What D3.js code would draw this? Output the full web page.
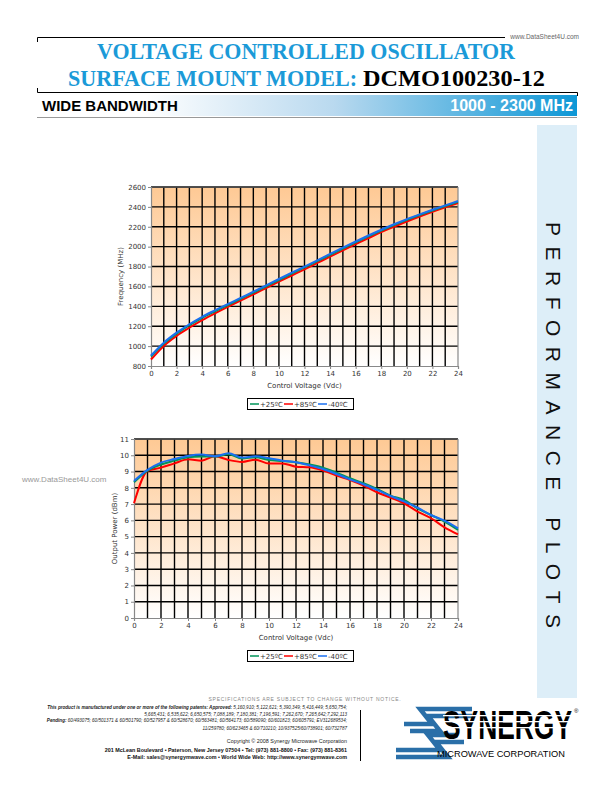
<!DOCTYPE html>
<html><head><meta charset="utf-8">
<script src="https://cdn.jsdelivr.net/npm/d3@7"></script>
<style>body{margin:0;background:#fff}svg{display:block}</style>
</head><body>
<svg id="page" width="612" height="792"></svg>
<script>
// ---------- data ----------
const voltage = [0,1,2,3,4,5,6,7,8,9,10,11,12,13,14,15,16,17,18,19,20,21,22,23,24];
const voltTicks = [0,2,4,6,8,10,12,14,16,18,20,22,24];
const freqTicks = [800,1000,1200,1400,1600,1800,2000,2200,2400,2600];
const powerTicks = [0,1,2,3,4,5,6,7,8,9,10,11];
const seriesNames = ["+25ºC","+85ºC","-40ºC"];
const seriesColors = ["#00945a","#ff0000","#1a6ff0"];

const freqP25 = [895,1025,1125,1210,1285,1350,1413,1476,1538,1601,1665,1728,1791,1854,1918,1981,2043,2103,2161,2217,2269,2318,2364,2408,2452];
const freqP85 = [865,1002,1103,1185,1261,1330,1395,1458,1520,1584,1648,1710,1772,1836,1900,1963,2025,2086,2146,2200,2253,2303,2351,2396,2439];
const freqM40 = [905,1035,1135,1220,1295,1360,1422,1485,1547,1610,1675,1738,1800,1863,1927,1990,2052,2112,2170,2225,2277,2325,2371,2415,2459];

const powP25 = [8.34,9.06,9.43,9.67,9.88,9.92,9.92,10.06,9.80,9.88,9.71,9.65,9.57,9.43,9.24,8.93,8.59,8.28,7.93,7.52,7.25,6.74,6.33,5.92,5.41];
const powP85 = [7.05,9.04,9.24,9.50,9.75,9.67,9.94,9.71,9.59,9.73,9.49,9.50,9.30,9.26,9.06,8.75,8.48,8.14,7.73,7.40,7.05,6.54,6.13,5.57,5.14];
const powM40 = [8.42,9.10,9.55,9.77,9.96,10.04,9.94,10.12,9.86,9.94,9.82,9.67,9.57,9.38,9.16,8.85,8.52,8.22,7.87,7.50,7.17,6.78,6.33,5.98,5.51];

const patentLines = [
  ["This product is manufactured under one or more of the following patents: Approved: ","5,160,910; 5,122,621; 5,390,349; 5,416,449; 5,650,754;"],
  ["","5,665,431; 6,535,622; 6,650,575; 7,088,189; 7,180,381; 7,196,591; 7,262,670; 7,265,642;7,292,113"],
  ["Pending: ","60/493075; 60/501371 & 60/501790; 60/527957 & 60/528670; 60/563481; 60/564173; 60/589090; 60/601823; 60/605791; EV312689534;"],
  ["","11/259780; 60/623465 & 60/710210; 10/937525/60/738901; 60/732787"]
];

// ---------- page ----------
const svg = d3.select("#page");
const defs = svg.append("defs");
const serif = "'Liberation Serif','Times New Roman',serif";
const sans = "'Liberation Sans',Arial,sans-serif";
const verd = "'DejaVu Sans',Verdana,sans-serif";

// top frame
svg.append("path").attr("d","M37.5,42 V37.5 H505").attr("fill","none").attr("stroke","#000").attr("stroke-width",1);
svg.append("text").attr("x",579).attr("y",39).attr("text-anchor","end").attr("font-family",sans).attr("font-size",6.5).attr("fill","#666").text("www.DataSheet4U.com");

svg.append("text").attr("x",306).attr("y",59).attr("text-anchor","middle").attr("font-family",serif).attr("font-weight","bold").attr("font-size",23)
  .attr("fill","#1b9ad8").attr("textLength",418).attr("lengthAdjust","spacingAndGlyphs").text("VOLTAGE CONTROLLED OSCILLATOR");
svg.append("text").attr("x",68).attr("y",86).attr("font-family",serif).attr("font-weight","bold").attr("font-size",23)
  .attr("fill","#1b9ad8").attr("textLength",289).attr("lengthAdjust","spacingAndGlyphs").text("SURFACE MOUNT MODEL:");
svg.append("text").attr("x",363).attr("y",86).attr("font-family",serif).attr("font-weight","bold").attr("font-size",24)
  .attr("fill","#000").attr("textLength",182).attr("lengthAdjust","spacingAndGlyphs").text("DCMO100230-12");

svg.append("path").attr("d","M37.5,88 V92.5 H577.5 V96").attr("fill","none").attr("stroke","#000").attr("stroke-width",1);

const bandGrad = defs.append("linearGradient").attr("id","band").attr("x1",0).attr("x2",1).attr("y1",0).attr("y2",0);
bandGrad.append("stop").attr("offset",0).attr("stop-color","#ffffff");
bandGrad.append("stop").attr("offset",0.2).attr("stop-color","#ffffff");
bandGrad.append("stop").attr("offset",0.55).attr("stop-color","#b9d9ef");
bandGrad.append("stop").attr("offset",1).attr("stop-color","#0d97d6");
svg.append("rect").attr("x",37).attr("y",95).attr("width",540).attr("height",21).attr("fill","url(#band)");
svg.append("line").attr("x1",37).attr("x2",577).attr("y1",117.5).attr("y2",117.5).attr("stroke","#999").attr("stroke-width",1);
svg.append("text").attr("x",42).attr("y",111).attr("font-family",sans).attr("font-weight","bold").attr("font-size",15).attr("fill","#000").text("WIDE BANDWIDTH");
svg.append("text").attr("x",573).attr("y",111).attr("text-anchor","end").attr("font-family",sans).attr("font-weight","bold").attr("font-size",16).attr("fill","#fff").text("1000 - 2300 MHz");

// side panel
svg.append("rect").attr("x",537).attr("y",125).attr("width",40).attr("height",573).attr("fill","#ddeef8");
svg.append("text").attr("transform","translate(546,222) rotate(90)").attr("font-family",sans).attr("font-size",21).attr("fill","#111")
  .attr("textLength",406).attr("lengthAdjust","spacing").text("PERFORMANCE PLOTS");

// left watermark
svg.append("text").attr("x",22).attr("y",482).attr("font-family",sans).attr("font-size",8).attr("fill","#999").text("www.DataSheet4U.com");

// ---------- charts ----------
function drawChart(cfg){
  const g = svg.append("g");
  const x = d3.scaleLinear().domain([0,24]).range([cfg.x0,cfg.x1]);
  const y = d3.scaleLinear().domain([cfg.ticks[0],cfg.ticks[cfg.ticks.length-1]]).range([cfg.y1,cfg.y0]);
  const gr = defs.append("linearGradient").attr("id",cfg.id).attr("x1",0).attr("x2",0).attr("y1",0).attr("y2",1);
  gr.append("stop").attr("offset",0).attr("stop-color","#fec994");
  gr.append("stop").attr("offset",1).attr("stop-color","#ffffff");
  g.append("rect").attr("x",cfg.x0).attr("y",cfg.y0).attr("width",cfg.x1-cfg.x0).attr("height",cfg.y1-cfg.y0).attr("fill",`url(#${cfg.id})`);
  // grid
  g.selectAll("line.v").data(voltage.filter(v=>v>0&&v<24)).join("line")
    .attr("x1",d=>x(d)).attr("x2",d=>x(d)).attr("y1",cfg.y0).attr("y2",cfg.y1).attr("stroke","#000").attr("stroke-width",1.4);
  g.selectAll("line.h").data(cfg.ticks.slice(1)).join("line")
    .attr("x1",cfg.x0).attr("x2",cfg.x1).attr("y1",d=>y(d)).attr("y2",d=>y(d)).attr("stroke","#000").attr("stroke-width",1.4);
  g.append("line").attr("x1",cfg.x0).attr("x2",cfg.x1).attr("y1",cfg.y0).attr("y2",cfg.y0).attr("stroke","#555").attr("stroke-width",1.5);
  g.append("line").attr("x1",cfg.x1).attr("x2",cfg.x1).attr("y1",cfg.y0).attr("y2",cfg.y1).attr("stroke","#888").attr("stroke-width",1.2);
  // axes
  const ax = g.append("g").attr("transform",`translate(0,${cfg.y1})`).call(d3.axisBottom(x).tickValues(voltTicks).tickFormat(d3.format("d")).tickSize(3).tickPadding(2));
  const ay = g.append("g").attr("transform",`translate(${cfg.x0},0)`).call(d3.axisLeft(y).tickValues(cfg.ticks).tickFormat(d3.format("d")).tickSize(3).tickPadding(2));
  [ax,ay].forEach(a=>{
    a.select(".domain").attr("stroke","#888").attr("stroke-width",1.2);
    a.selectAll(".tick line").attr("stroke","#888");
    a.selectAll("text").attr("font-family",verd).attr("font-size",7).attr("fill","#333");
  });
  // lines
  const line = d3.line().x((d,i)=>x(voltage[i])).y(d=>y(d)).curve(d3.curveMonotoneX);
  [1,0,2].forEach(k=>{
    g.append("path").datum(cfg.series[k]).attr("d",line).attr("fill","none").attr("stroke",seriesColors[k]).attr("stroke-width",2).attr("stroke-linejoin","round");
  });
  // titles
  g.append("text").attr("x",(cfg.x0+cfg.x1)/2).attr("y",cfg.y1+22).attr("text-anchor","middle").attr("font-family",verd).attr("font-size",7).attr("fill","#333").text("Control Voltage (Vdc)");
  g.append("text").attr("transform",`translate(${cfg.ytx},${(cfg.y0+cfg.y1)/2}) rotate(-90)`).attr("text-anchor","middle").attr("font-family",verd).attr("font-size",7).attr("fill","#333").text(cfg.ytitle);
  // legend
  const lg = g.append("g").attr("transform",`translate(247,${cfg.ly})`);
  lg.append("rect").attr("x",0.5).attr("y",0.5).attr("width",106).attr("height",11).attr("fill","#fff").attr("stroke","#000").attr("stroke-width",1);
  const offs = [3,37,71];
  seriesNames.forEach((n,k)=>{
    lg.append("line").attr("x1",offs[k]).attr("x2",offs[k]+9).attr("y1",6).attr("y2",6).attr("stroke",seriesColors[k]).attr("stroke-width",1.5);
    lg.append("text").attr("x",offs[k]+10).attr("y",8.5).attr("font-family",verd).attr("font-size",7).attr("fill","#333").text(n);
  });
}

drawChart({id:"g1",x0:151,x1:458,y0:187,y1:366,ticks:freqTicks,series:[freqP25,freqP85,freqM40],ytitle:"Frequency (MHz)",ytx:123,ly:398});
drawChart({id:"g2",x0:134,x1:458,y0:439,y1:618,ticks:powerTicks,series:[powP25,powP85,powM40],ytitle:"Output Power (dBm)",ytx:117,ly:650});

// ---------- footer ----------
svg.append("text").attr("x",305).attr("y",701).attr("text-anchor","middle").attr("font-family",sans).attr("font-size",5).attr("letter-spacing",0.75).attr("fill","#888").text("SPECIFICATIONS ARE SUBJECT TO CHANGE WITHOUT NOTICE.");
const py = [709,715.5,722,730];
patentLines.forEach((p,i)=>{
  const t = svg.append("text").attr("x",347).attr("y",py[i]).attr("text-anchor","end").attr("font-family",sans).attr("font-size",4.6).attr("font-style","italic").attr("fill","#222");
  if(p[0]) t.append("tspan").attr("font-weight","bold").text(p[0]);
  t.append("tspan").text(p[1]);
});
svg.append("text").attr("x",347).attr("y",743).attr("text-anchor","end").attr("font-family",sans).attr("font-size",5.4).attr("fill","#222").text("Copyright © 2008 Synergy Microwave Corporation");
svg.append("text").attr("x",347).attr("y",751.5).attr("text-anchor","end").attr("font-family",sans).attr("font-weight","bold").attr("font-size",5.4).attr("fill","#111").text("201 McLean Boulevard • Paterson, New Jersey 07504 • Tel: (973) 881-8800 • Fax: (973) 881-8361");
svg.append("text").attr("x",347).attr("y",759).attr("text-anchor","end").attr("font-family",sans).attr("font-weight","bold").attr("font-size",5.4).attr("fill","#111").text("E-Mail: sales@synergymwave.com • World Wide Web: http://www.synergymwave.com");
svg.append("line").attr("x1",360.5).attr("x2",360.5).attr("y1",710).attr("y2",761).attr("stroke","#000").attr("stroke-width",1);

// logo
const logo = svg.append("g");
const blue = "#2a6fa8";
logo.append("path").attr("fill","none").attr("stroke",blue).attr("stroke-width",4.5)
  .attr("d","M472,709 L420,709 L432,724 L404,724 M472,716 L428,716 L440,731 L410,731");
logo.append("path").attr("fill","none").attr("stroke",blue).attr("stroke-width",4.5)
  .attr("d","M396,757 L448,757 L436,742 L464,742 M396,750 L440,750 L428,735 L458,735");
const syn = logo.append("text").attr("x",0).attr("y",0).attr("font-family",sans).attr("font-weight","bold").attr("font-size",40).attr("fill","#000").text("SYNERGY");
const synW = syn.node().getComputedTextLength();
syn.attr("transform",`translate(443,739) scale(${129/synW},1)`);
[715,721,727].forEach(yy=>logo.append("rect").attr("x",443).attr("y",yy).attr("width",131).attr("height",1.3).attr("fill","#fff"));
logo.append("text").attr("x",574).attr("y",713).attr("font-family",sans).attr("font-size",6).attr("fill","#000").text("®");
const mc = logo.append("text").attr("x",0).attr("y",0).attr("font-family",sans).attr("font-size",9).attr("fill","#000").text("MICROWAVE CORPORATION");
const mcW = mc.node().getComputedTextLength();
mc.attr("transform",`translate(437,756.5) scale(${128/mcW},1)`);
</script>
</body></html>
